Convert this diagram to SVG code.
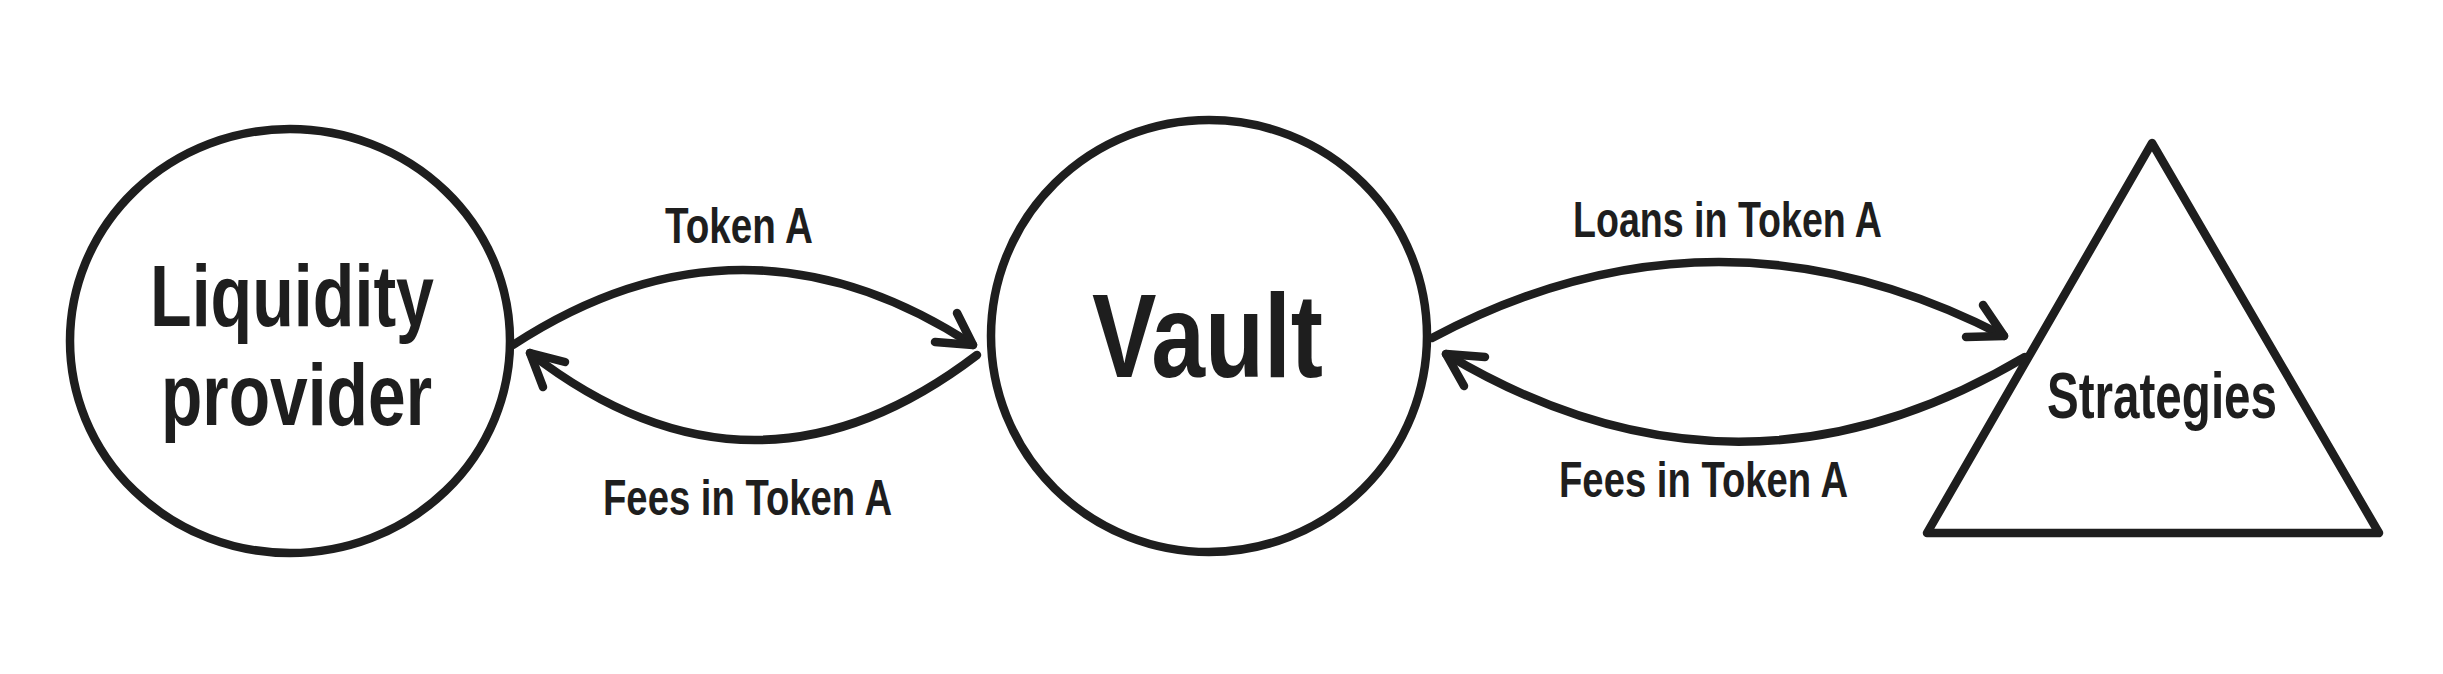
<svg xmlns="http://www.w3.org/2000/svg" width="2443" height="674" viewBox="0 0 2443 674">
<style>
.shape{fill:#ffffff;stroke:#1e1e1e;stroke-width:8.5;stroke-linejoin:round;stroke-linecap:round}
.conn{fill:none;stroke:#1e1e1e;stroke-width:8.5;stroke-linecap:round;stroke-linejoin:round}
.t{font-family:"Liberation Sans Narrow","Liberation Sans",sans-serif;font-weight:bold;fill:#1e1e1e}
.lbl{font-size:50px}
</style>
<rect width="2443" height="674" fill="#ffffff"/>
<g id="node-liquidity-provider">
<ellipse class="shape" cx="290" cy="341" rx="220" ry="212"/>
<text class="t" x="150" y="326" font-size="88" textLength="284" lengthAdjust="spacingAndGlyphs">Liquidity</text>
<text class="t" x="161" y="425" font-size="88" textLength="271" lengthAdjust="spacingAndGlyphs">provider</text>
</g>
<g id="node-vault">
<ellipse class="shape" cx="1209" cy="336" rx="218" ry="216"/>
<text class="t" x="1092" y="377" font-size="118" textLength="231" lengthAdjust="spacingAndGlyphs">Vault</text>
</g>
<g id="node-strategies">
<path class="shape" d="M2152 143 L2379 533 L1927 533 Z"/>
<text class="t" x="2047" y="418" font-size="64" textLength="230" lengthAdjust="spacingAndGlyphs">Strategies</text>
</g>
<g id="connectors">
<path class="conn" d="M513 345 Q743 195 973 345"/>
<path class="conn" d="M957 313 L973 345 L935 342"/>
<path class="conn" d="M977 355 Q753 526 530 353"/>
<path class="conn" d="M565 362 L530 353 L543 387"/>
<path class="conn" d="M1432 338 Q1716 187 2004 336"/>
<path class="conn" d="M1983 305 L2004 336 L1966 337"/>
<path class="conn" d="M2025 357 Q1737 528 1446 354"/>
<path class="conn" d="M1485 357 L1446 354 L1464 386"/>
<text class="t lbl" x="665" y="243" textLength="148" lengthAdjust="spacingAndGlyphs">Token A</text>
<text class="t lbl" x="603" y="515" textLength="289" lengthAdjust="spacingAndGlyphs">Fees in Token A</text>
<text class="t lbl" x="1573" y="237" textLength="309" lengthAdjust="spacingAndGlyphs">Loans in Token A</text>
<text class="t lbl" x="1559" y="497" textLength="289" lengthAdjust="spacingAndGlyphs">Fees in Token A</text>
</g>
</svg>
